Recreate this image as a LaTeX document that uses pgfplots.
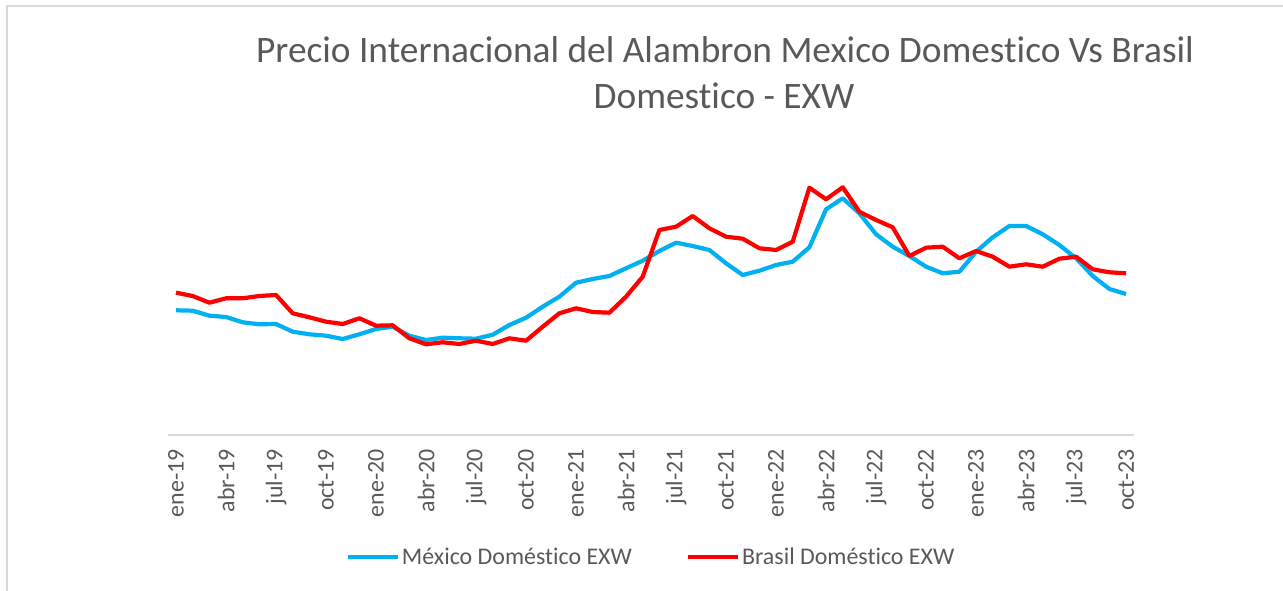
\documentclass[border=0pt]{standalone}
\usepackage{pgfplots}
\pgfplotsset{compat=1.18}
\usepackage{pgfplotstable}
\usepackage{fontspec}
\setmainfont{Carlito}[Ligatures=NoCommon]
\definecolor{mxblue}{HTML}{00B0F0}
\definecolor{brred}{HTML}{FF0000}
\definecolor{txtgray}{HTML}{595959}
\definecolor{axgray}{HTML}{D9D9D9}

\pgfplotstableread{
i mx br
0 124.7 142.3
1 124.3 139.0
2 119.3 132.3
3 118.0 136.7
4 112.7 136.7
5 110.7 139.0
6 111.0 140.0
7 103.3 121.7
8 100.7 117.7
9 99.3 113.3
10 96.0 111.0
11 100.7 116.7
12 106.0 109.3
13 108.3 109.7
14 99.3 96.7
15 95.0 90.7
16 97.3 92.7
17 96.7 91.0
18 96.3 94.3
19 100.3 91.0
20 110.0 96.7
21 117.3 94.3
22 128.3 108.3
23 138.3 121.7
24 152.3 126.7
25 156.0 123.0
26 159.0 122.3
27 166.7 138.3
28 174.3 158.3
29 184.0 205.0
30 192.3 208.3
31 189.0 219.0
32 185.0 206.7
33 171.7 198.3
34 160.0 196.3
35 164.3 186.7
36 170.0 185.0
37 173.3 193.3
38 187.7 247.3
39 225.7 235.7
40 236.7 247.7
41 221.7 223.3
42 200.7 215.0
43 188.3 207.7
44 179.0 179.0
45 168.3 187.3
46 161.7 188.3
47 163.3 176.7
48 183.3 184.0
49 197.7 178.3
50 209.0 168.3
51 209.0 170.7
52 200.7 168.3
53 190.0 176.3
54 176.7 178.3
55 159.0 165.7
56 146.0 162.7
57 141.0 161.7
}\datatable

\begin{document}
\begin{tikzpicture}
\useasboundingbox (0bp,0bp) rectangle (1283bp,591bp);
\draw[axgray, line width=2bp] (7bp,0bp) -- (7bp,585bp) -- (1290bp,585bp);
\node[anchor=base, text=txtgray, font=\fontsize{37.5}{46}\selectfont, inner sep=0pt] at (725bp,528bp) {Precio Internacional del Alambron Mexico Domestico Vs Brasil};
\node[anchor=base, text=txtgray, font=\fontsize{37.5}{46}\selectfont, inner sep=0pt] at (724bp,482bp) {Domestico - EXW};
\begin{axis}[
  at={(167.7bp,156bp)}, anchor=south west,
  scale only axis, width=966.7bp, height=280bp,
  xmin=-0.5, xmax=57.5, ymin=0, ymax=280,
  axis x line*=bottom, axis y line=none,
  x axis line style={axgray, line width=1.5bp, -},
  xtick={0,3,...,57},
  xticklabels={ene-19,abr-19,jul-19,oct-19,ene-20,abr-20,jul-20,oct-20,ene-21,abr-21,jul-21,oct-21,ene-22,abr-22,jul-22,oct-22,ene-23,abr-23,jul-23,oct-23},
  major tick length=0pt,
  xticklabel style={rotate=90, anchor=east, inner sep=0pt, text=txtgray, font=\fontsize{24}{29}\selectfont},
  xticklabel shift=14bp,
  clip=false,
  legend columns=2,
  legend style={at={(0.5,-0.4357)}, anchor=center, draw=none, fill=none,
    font=\fontsize{24}{29}\selectfont, text=txtgray,
    /tikz/every even column/.append style={column sep=52bp}},
  legend cell align=left,
  legend image code/.code={\draw[#1, line width=4.2bp] (0bp,0bp) -- (50bp,0bp);},
]
\addplot[mxblue, line width=4.2bp, line join=round] table[x=i, y=mx] {\datatable};
\addlegendentry{México Doméstico EXW}
\addplot[brred, line width=4.2bp, line join=round] table[x=i, y=br] {\datatable};
\addlegendentry{Brasil Doméstico EXW}
\end{axis}
\end{tikzpicture}
\end{document}
